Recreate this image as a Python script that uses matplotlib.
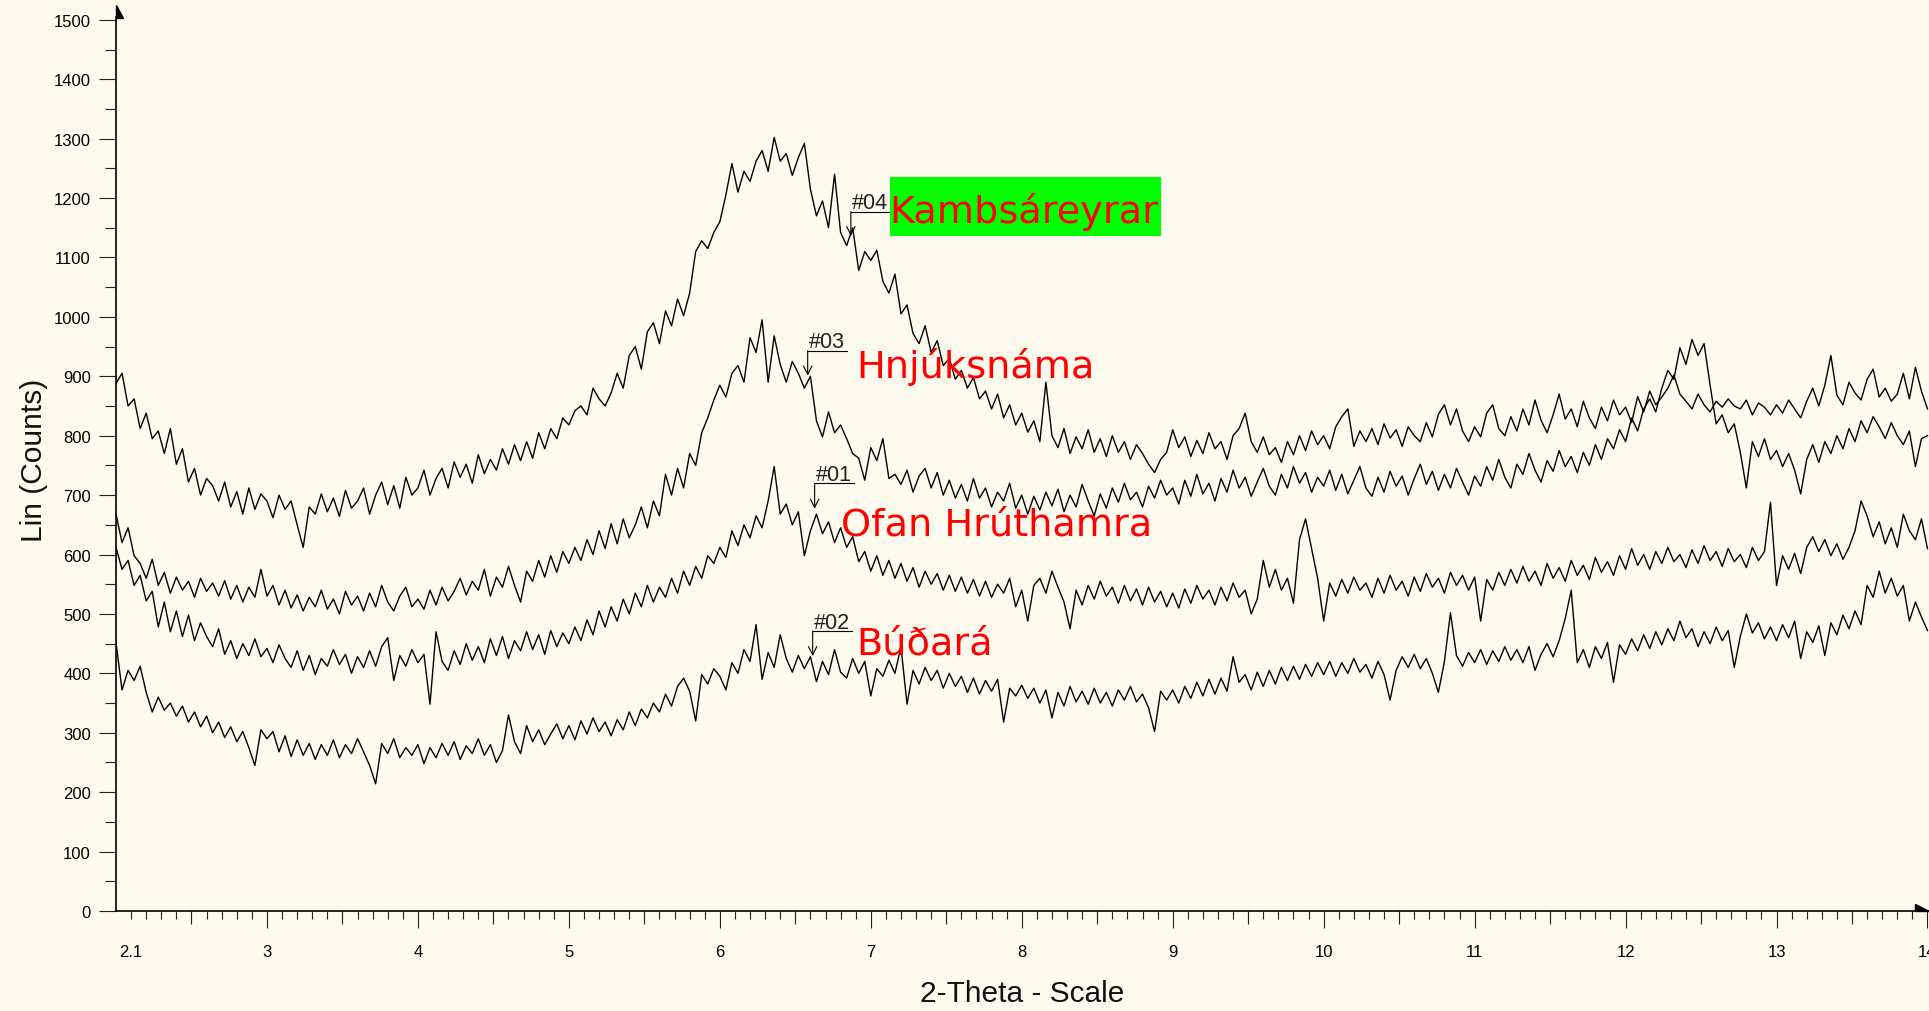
import numpy as np
import matplotlib
matplotlib.use("Agg")
import matplotlib.pyplot as plt
from matplotlib.patches import Rectangle, Polygon

# scan grid (degrees 2-theta), step 0.04
two_theta = np.round(np.arange(2.0, 14.0001, 0.04), 2)

# counts, one row per degree (2.00 ... 2.96, 3.00 ... )
kambsareyrar = [
    888, 905, 850, 862, 812, 838, 795, 808, 770, 812, 752, 778, 722, 745, 700, 728, 716, 690, 722, 680, 706, 668, 712, 676, 702,
    690, 662, 700, 676, 690, 650, 612, 680, 668, 702, 672, 695, 664, 708, 678, 690, 712, 668, 700, 722, 684, 716, 678, 730, 700,
    712, 742, 700, 728, 745, 712, 756, 730, 752, 720, 768, 736, 760, 742, 778, 752, 785, 758, 790, 762, 805, 778, 812, 795, 830,
    818, 842, 850, 835, 880, 862, 850, 872, 905, 880, 935, 950, 912, 975, 990, 955, 1010, 985, 1030, 1002, 1040, 1110, 1128, 1115, 1142,
    1160, 1205, 1258, 1210, 1245, 1228, 1262, 1280, 1245, 1302, 1262, 1275, 1238, 1268, 1292, 1215, 1170, 1195, 1150, 1240, 1142, 1120, 1150, 1078, 1110,
    1095, 1112, 1060, 1040, 1072, 1005, 1020, 972, 955, 985, 940, 960, 918, 930, 895, 910, 880, 898, 862, 875, 845, 870, 830, 852, 818,
    838, 806, 825, 790, 890, 800, 780, 812, 770, 798, 778, 810, 772, 795, 765, 800, 772, 790, 760, 785, 770, 752, 738, 760, 772,
    810, 780, 798, 765, 792, 770, 805, 778, 790, 760, 800, 812, 838, 790, 772, 798, 768, 780, 755, 790, 768, 800, 775, 808, 785,
    800, 778, 815, 832, 845, 782, 808, 790, 812, 785, 820, 796, 810, 782, 815, 800, 790, 822, 798, 836, 852, 818, 845, 808, 790,
    815, 798, 838, 852, 812, 800, 832, 808, 845, 818, 860, 826, 805, 835, 870, 828, 845, 815, 858, 830, 812, 848, 825, 860, 835,
    848, 822, 866, 840, 875, 852, 865, 880, 902, 870, 858, 845, 870, 852, 840, 858, 848, 862, 850, 845, 860, 835, 855, 848, 835,
    852, 838, 860, 845, 830, 858, 880, 850, 885, 935, 868, 852, 890, 872, 860, 895, 912, 865, 880, 858, 870, 905, 862, 915, 875,
    845,
]

hnjuksnama = [
    668, 620, 645, 598, 585, 560, 592, 548, 570, 535, 562, 540, 555, 528, 560, 538, 552, 530, 556, 525, 548, 520, 545, 528, 575,
    530, 548, 515, 540, 510, 532, 505, 528, 512, 540, 508, 525, 500, 538, 515, 530, 505, 535, 512, 548, 520, 505, 530, 545, 512,
    525, 508, 540, 515, 545, 522, 538, 560, 532, 555, 540, 575, 530, 562, 545, 580, 548, 520, 572, 555, 590, 562, 598, 570, 605,
    585, 612, 590, 625, 600, 640, 610, 652, 618, 660, 628, 650, 680, 645, 690, 665, 735, 700, 745, 712, 770, 750, 805, 830, 860,
    885, 865, 905, 918, 890, 965, 940, 995, 890, 968, 920, 890, 925, 905, 880, 900, 825, 798, 840, 805, 818, 795, 770, 762, 725,
    780, 758, 795, 728, 735, 718, 742, 705, 732, 745, 712, 738, 700, 725, 695, 718, 690, 728, 695, 712, 680, 705, 690, 720, 678,
    700, 668, 698, 675, 705, 682, 710, 672, 700, 680, 718, 690, 665, 702, 678, 712, 688, 720, 692, 705, 680, 715, 695, 725, 700,
    712, 685, 725, 698, 735, 702, 720, 690, 728, 705, 742, 712, 730, 698, 722, 745, 715, 700, 735, 712, 748, 720, 738, 705, 730,
    715, 742, 708, 735, 702, 725, 748, 712, 698, 730, 705, 740, 715, 732, 700, 728, 752, 718, 740, 708, 735, 712, 745, 722, 700,
    732, 715, 748, 725, 760, 730, 712, 752, 735, 770, 742, 722, 758, 740, 775, 748, 765, 738, 772, 750, 785, 760, 795, 778, 810,
    790, 830, 808, 845, 862, 840, 880, 910, 895, 948, 920, 962, 935, 955, 885, 820, 835, 805, 820, 772, 712, 790, 765, 795, 760,
    775, 748, 770, 742, 702, 760, 785, 755, 790, 770, 800, 778, 812, 790, 825, 805, 832, 815, 795, 822, 800, 785, 808, 748, 795,
    800,
]

ofan_hruthamra = [
    612, 575, 590, 548, 565, 522, 538, 478, 520, 470, 505, 462, 498, 455, 485, 462, 445, 475, 432, 455, 425, 450, 430, 458, 428,
    442, 418, 448, 425, 410, 438, 405, 430, 398, 425, 412, 440, 415, 432, 400, 428, 410, 438, 412, 445, 460, 388, 430, 412, 440,
    418, 432, 348, 470, 420, 405, 438, 415, 450, 422, 445, 418, 458, 430, 462, 425, 455, 438, 470, 440, 465, 432, 472, 445, 468,
    450, 478, 455, 490, 465, 505, 478, 512, 488, 525, 500, 535, 512, 548, 520, 545, 528, 560, 535, 572, 548, 580, 560, 598, 585,
    612, 595, 640, 615, 650, 628, 665, 645, 690, 748, 668, 685, 650, 672, 598, 640, 668, 635, 655, 620, 645, 612, 630, 588, 605,
    572, 598, 565, 590, 560, 585, 555, 578, 545, 572, 550, 568, 540, 565, 538, 562, 535, 558, 530, 555, 528, 550, 535, 560, 512,
    540, 488, 548, 560, 535, 572, 545, 520, 475, 540, 515, 548, 525, 555, 530, 545, 518, 548, 522, 542, 515, 545, 520, 538, 512,
    535, 510, 542, 518, 548, 525, 540, 515, 545, 522, 552, 528, 540, 500, 525, 590, 545, 575, 540, 560, 518, 625, 660, 610, 560,
    488, 552, 530, 558, 535, 562, 540, 552, 528, 560, 535, 565, 540, 555, 530, 562, 538, 568, 545, 560, 535, 570, 548, 565, 540,
    562, 488, 558, 540, 570, 548, 575, 552, 580, 555, 572, 548, 585, 560, 578, 555, 590, 565, 582, 558, 595, 570, 588, 565, 598,
    575, 610, 582, 600, 575, 605, 585, 612, 588, 600, 578, 608, 585, 615, 590, 605, 580, 610, 588, 600, 578, 612, 590, 605, 688,
    548, 598, 575, 602, 568, 612, 630, 605, 625, 598, 618, 592, 612, 640, 690, 665, 630, 655, 618, 645, 612, 668, 640, 625, 660,
    610,
]

budara = [
    452, 372, 405, 388, 412, 368, 335, 360, 338, 350, 328, 345, 318, 335, 310, 328, 300, 318, 292, 310, 285, 302, 275, 245, 305,
    290, 302, 268, 295, 260, 288, 262, 282, 255, 280, 262, 288, 258, 280, 265, 290, 268, 245, 214, 282, 265, 290, 258, 275, 262,
    280, 248, 275, 258, 282, 262, 285, 255, 278, 265, 290, 262, 280, 250, 270, 330, 285, 265, 312, 285, 305, 280, 298, 315, 290,
    312, 288, 320, 298, 325, 302, 318, 295, 322, 305, 335, 312, 340, 325, 350, 335, 365, 345, 378, 392, 370, 320, 398, 382, 408,
    395, 372, 418, 400, 440, 420, 482, 390, 435, 410, 465, 425, 402, 430, 408, 428, 386, 420, 398, 440, 402, 392, 425, 400, 420,
    362, 408, 395, 422, 400, 445, 348, 405, 382, 410, 388, 405, 375, 400, 378, 395, 368, 392, 365, 388, 370, 390, 318, 375, 362,
    380, 358, 375, 350, 372, 325, 368, 345, 378, 352, 370, 348, 375, 350, 368, 345, 372, 355, 378, 352, 365, 342, 302, 370, 355,
    372, 350, 378, 358, 385, 362, 390, 365, 392, 370, 428, 385, 398, 372, 402, 378, 405, 382, 410, 388, 412, 390, 415, 395, 418,
    398, 420, 395, 418, 400, 425, 402, 415, 392, 420, 398, 355, 405, 428, 410, 432, 408, 425, 400, 368, 420, 502, 430, 412, 435,
    418, 440, 415, 438, 420, 445, 422, 440, 418, 445, 405, 432, 450, 428, 455, 492, 540, 418, 440, 410, 445, 425, 452, 385, 448,
    432, 458, 438, 465, 442, 470, 448, 475, 455, 488, 460, 475, 445, 470, 450, 478, 455, 472, 410, 462, 500, 468, 485, 458, 478,
    455, 482, 460, 488, 425, 470, 452, 480, 430, 485, 465, 498, 475, 505, 482, 548, 528, 572, 535, 560, 530, 548, 488, 520, 495,
    472,
]

series = [kambsareyrar, hnjuksnama, ofan_hruthamra, budara]
sample_ids = ["#04", "#03", "#01", "#02"]
sample_names = ["Kambsáreyrar", "Hnjúksnáma", "Ofan Hrúthamra", "Búðará"]

y_major = list(range(0, 1501, 100))
x_major = [2.1] + list(range(3, 15))
x_major_labels = ["2.1"] + [str(v) for v in range(3, 15)]

# layout of the marker callouts: (leader x, leader top, arrow tip, name x, name baseline)
callouts = [
    (6.868, 1177, 1136, 7.12, 1160),
    (6.582, 943, 901, 6.907, 899),
    (6.628, 720, 677, 6.80, 633),
    (6.615, 471, 429, 6.907, 433),
]
tag_len = 0.262
bg = "#fffaee"

plt.rcParams["font.family"] = ["Liberation Sans", "DejaVu Sans"]

fig = plt.figure(figsize=(19.29, 10.12), dpi=100, facecolor=bg)
ax = fig.add_axes([116 / 1929, 100 / 1012, 1 - 116 / 1929, 1 - 100 / 1012])
ax.set_facecolor(bg)

for counts in series:
    assert len(counts) == len(two_theta)
    ax.plot(two_theta, counts, color="black", lw=1.0)

ax.set_xlim(2.0, 14.01)
ax.set_ylim(0, 1535)

for s in ["top", "right"]:
    ax.spines[s].set_visible(False)
ax.spines["left"].set_bounds(0, 1505)
ax.spines["left"].set_linewidth(1.2)
ax.spines["bottom"].set_linewidth(1.2)

ax.set_yticks(y_major)
ax.set_yticks([v + 50 for v in y_major[:-1]], minor=True)
ax.set_xticks(x_major, x_major_labels)
ax.set_xticks(np.round(np.arange(2.1, 13.95, 0.1), 1), minor=True)
ax.tick_params(axis="y", which="major", length=12, width=0.8, pad=6, labelsize=12, color="#222222")
ax.tick_params(axis="y", which="minor", length=8, width=0.8, color="#222222")
ax.tick_params(axis="x", which="major", length=12, width=0.8, pad=11.5, labelsize=12, color="#222222")
ax.tick_params(axis="x", which="minor", length=6, width=0.8, color="#222222")
ax.xaxis.get_major_ticks()[0].tick1line.set_markersize(6)

# half-degree ticks are a bit longer
sec = ax.secondary_xaxis("bottom")
sec.set_xticks(np.arange(2.5, 14.0, 1.0))
sec.tick_params(length=9.4, width=0.8, labelbottom=False, color="#222222")
sec.spines["bottom"].set_visible(False)

# half arrow heads at the ends of the axes
ax.add_patch(Polygon([(2.0, 1525), (2.0, 1503), (2.047, 1503)], closed=True,
                     color="black", clip_on=False))
ax.add_patch(Polygon([(14.01, 0), (13.92, 0), (13.92, 12)], closed=True,
                     color="black", clip_on=False))

# callouts
for sid, name, (lx, top, tip, nx, ny) in zip(sample_ids, sample_names, callouts):
    ax.annotate("", xy=(lx, tip), xytext=(lx, top),
                arrowprops=dict(arrowstyle="->,head_length=0.5,head_width=0.25",
                                color="black", lw=0.8, shrinkA=0, shrinkB=0,
                                mutation_scale=12))
    ax.plot([lx, lx + tag_len], [top, top], color="black", lw=0.8)
    ax.text(lx + 0.005, top + 6, sid, fontsize=15.5, color="#222222",
            ha="left", va="baseline")
    ax.text(nx, ny, name, fontsize=27.5, color="red", family="DejaVu Sans",
            ha="left", va="baseline", zorder=5)

# green highlight behind the first sample name
ax.add_patch(Rectangle((7.126, 1136), 8.92 - 7.126, 100, facecolor="#00ff00",
                       edgecolor="none", zorder=4))

fig.text(0.0176, 1 - 460 / 1012, "Lin (Counts)", rotation=90, fontsize=21.5,
         ha="center", va="center", color="#111111")
fig.text(0.53, 1 - 994 / 1012, "2-Theta - Scale", fontsize=21.5,
         ha="center", va="center", color="#111111")

fig.savefig("out.png", dpi=100, facecolor=bg)
